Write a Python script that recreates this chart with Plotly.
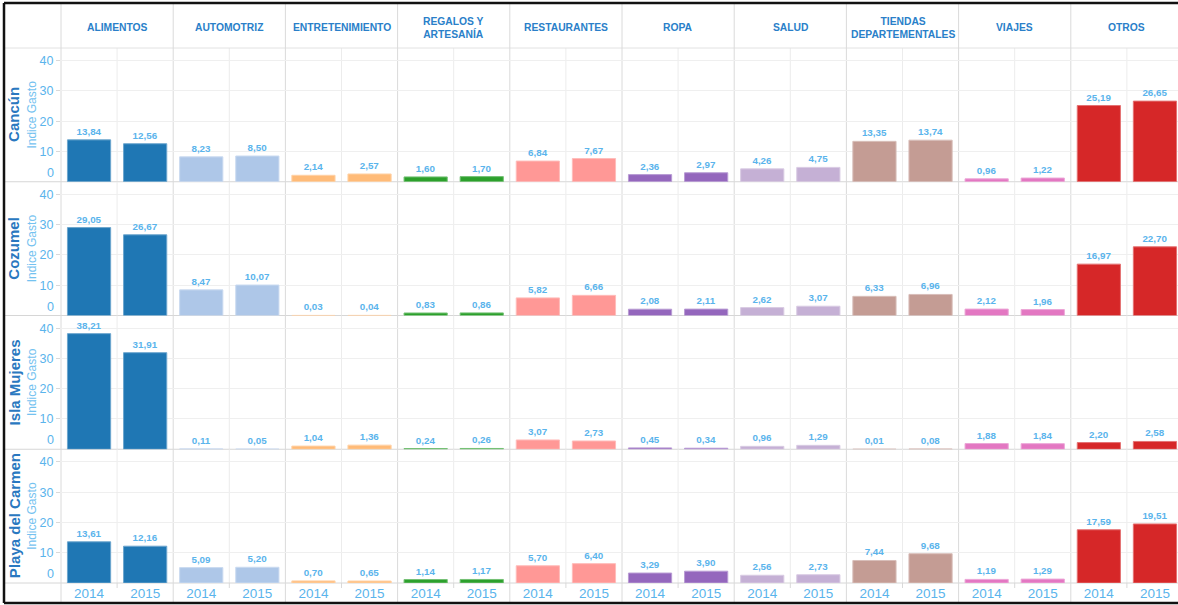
import plotly.graph_objects as go

# ---------------- data ----------------
years = ["2014", "2015"]
categories = ["ALIMENTOS", "AUTOMOTRIZ", "ENTRETENIMIENTO", "REGALOS Y<br>ARTESANÍA",
              "RESTAURANTES", "ROPA", "SALUD", "TIENDAS<br>DEPARTEMENTALES", "VIAJES", "OTROS"]
cities = ["Cancún", "Cozumel", "Isla Mujeres", "Playa del Carmen"]

cancun_2014 = [13.84, 8.23, 2.14, 1.60, 6.84, 2.36, 4.26, 13.35, 0.96, 25.19]
cancun_2015 = [12.56, 8.50, 2.57, 1.70, 7.67, 2.97, 4.75, 13.74, 1.22, 26.65]
cozumel_2014 = [29.05, 8.47, 0.03, 0.83, 5.82, 2.08, 2.62, 6.33, 2.12, 16.97]
cozumel_2015 = [26.67, 10.07, 0.04, 0.86, 6.66, 2.11, 3.07, 6.96, 1.96, 22.70]
isla_2014 = [38.21, 0.11, 1.04, 0.24, 3.07, 0.45, 0.96, 0.01, 1.88, 2.20]
isla_2015 = [31.91, 0.05, 1.36, 0.26, 2.73, 0.34, 1.29, 0.08, 1.84, 2.58]
playa_2014 = [13.61, 5.09, 0.70, 1.14, 5.70, 3.29, 2.56, 7.44, 1.19, 17.59]
playa_2015 = [12.16, 5.20, 0.65, 1.17, 6.40, 3.90, 2.73, 9.68, 1.29, 19.51]

y_ticks = [10, 20, 30, 40]
y_max = 44.2

# ---------------- style ----------------
colors = ["#1f77b4", "#aec7e8", "#ffbb78", "#2ca02c", "#ff9896",
          "#9467bd", "#c5b0d5", "#c49c94", "#e377c2", "#d62728"]
FONT = "Liberation Sans, Arial, sans-serif"
LIGHT_BLUE = "#5ab4ec"
HEAD_BLUE = "#2a7fc9"
ROW_BLUE = "#2a78c0"


def lighten(hexc, f=0.35):
    h = hexc.lstrip("#")
    r, g, b = int(h[0:2], 16), int(h[2:4], 16), int(h[4:6], 16)
    r = int(r + (255 - r) * f); g = int(g + (255 - g) * f); b = int(b + (255 - b) * f)
    return f"#{r:02x}{g:02x}{b:02x}"


W, H = 1178, 605
L, T, B, R = 61, 48, 22, 0
PW = W - L - R
PH = H - T - B
COLW = 112.2
ROWH = PH / 4


def fx(px):
    return (px - L) / PW


def fy(py):
    return 1 - (py - T) / PH


rows_data = [(cancun_2014, cancun_2015), (cozumel_2014, cozumel_2015),
             (isla_2014, isla_2015), (playa_2014, playa_2015)]

fig = go.Figure()
layout = {}
annotations = []
shapes = []

for r, (v14, v15) in enumerate(rows_data):
    ytop = T + r * ROWH
    ybot = T + (r + 1) * ROWH
    for c in range(len(categories)):
        n = r * 10 + c + 1
        sx = "" if n == 1 else str(n)
        left_px = L + c * COLW
        right_px = min(L + (c + 1) * COLW, W)
        xr = [-0.5, -0.5 + (right_px - left_px) / (COLW / 2)]
        fig.add_trace(go.Bar(
            x=years, y=[v14[c], v15[c]],
            xaxis="x" + sx, yaxis="y" + sx,
            marker=dict(color=colors[c], line=dict(color=lighten(colors[c]), width=1)),
            texttemplate="%{y:.2f}", textposition="outside", cliponaxis=False,
            constraintext="none",
            textfont=dict(size=9.8, color=LIGHT_BLUE, family=FONT, weight="bold"),
            showlegend=False, hoverinfo="x+y",
        ))
        layout["xaxis" + sx] = dict(
            domain=[fx(left_px), fx(right_px)], anchor="y" + sx, type="category",
            range=xr, showgrid=False, zeroline=False, showline=False,
            showticklabels=(r == 3), ticks="",
            tickfont=dict(size=13.5, color=LIGHT_BLUE, family=FONT), fixedrange=True,
        )
        ydict = dict(
            domain=[fy(ybot), fy(ytop)], anchor="x" + sx, range=[0, y_max],
            tickvals=y_ticks, showgrid=True, gridcolor="#efefef", gridwidth=1,
            zeroline=False, showline=False, showticklabels=(c == 0),
            ticks="outside" if c == 0 else "", ticklen=4, tickcolor="#d9d9d9",
            tickfont=dict(size=12.5, color=LIGHT_BLUE, family=FONT), fixedrange=True,
        )
        if c == 0:
            ydict["title"] = dict(text="Indice Gasto", standoff=0,
                                  font=dict(size=12, color="#74c2f0", family=FONT))
            annotations.append(dict(
                text="0", xref="paper", x=fx(56), xanchor="right",
                yref="y" + sx, y=0, yanchor="bottom", showarrow=False,
                font=dict(size=12.5, color=LIGHT_BLUE, family=FONT)))
        layout["yaxis" + sx] = ydict
        # mid line between 2014 and 2015
        midpx = left_px + COLW / 2
        if midpx < W:
            shapes.append(dict(type="line", xref="paper", yref="paper",
                               x0=fx(midpx), x1=fx(midpx), y0=fy(ybot), y1=fy(ytop),
                               line=dict(color="#ececec", width=1), layer="below"))
            if r == 3:
                shapes.append(dict(type="line", xref="paper", yref="paper",
                                   x0=fx(midpx), x1=fx(midpx), y0=fy(583), y1=fy(588),
                                   line=dict(color="#d9d9d9", width=1), layer="below"))
    # row label
    annotations.append(dict(
        text="<b>" + cities[r] + "</b>", xref="paper", yref="paper",
        x=fx(14), y=fy((ytop + ybot) / 2), xanchor="center", yanchor="middle",
        textangle=-90, showarrow=False,
        font=dict(size=15, color=ROW_BLUE, family=FONT)))
    # row separator
    shapes.append(dict(type="line", xref="paper", yref="paper",
                       x0=fx(4), x1=fx(W), y0=fy(ybot), y1=fy(ybot),
                       line=dict(color="#d6d6d6", width=1), layer="below"))

# header bottom line
shapes.append(dict(type="line", xref="paper", yref="paper",
                   x0=fx(4), x1=fx(W), y0=fy(T), y1=fy(T),
                   line=dict(color="#e2e2e2", width=1), layer="below"))
# column separators (including left label column edge)
for c in range(len(categories)):
    xp = L + c * COLW
    shapes.append(dict(type="line", xref="paper", yref="paper",
                       x0=fx(xp), x1=fx(xp), y0=fy(603), y1=fy(3),
                       line=dict(color="#dadada", width=1), layer="below"))
    cx = L + (c + 0.5) * COLW
    annotations.append(dict(
        text="<b>" + categories[c] + "</b>", xref="paper", yref="paper",
        x=fx(cx), y=fy(28), xanchor="center", yanchor="middle", showarrow=False,
        font=dict(size=10.3, color=HEAD_BLUE, family=FONT)))

# outer black frame
for (x0, y0, x1, y1) in [(4, 3, 4, 603), (4, 3, W, 3), (4, 603, W, 603)]:
    shapes.append(dict(type="line", xref="paper", yref="paper",
                       x0=fx(x0), x1=fx(x1), y0=fy(y0), y1=fy(y1),
                       line=dict(color="#111111", width=2.5), layer="above"))

fig.update_layout(
    **layout,
    width=W, height=H,
    margin=dict(l=L, r=R, t=T, b=B, autoexpand=False),
    paper_bgcolor="white", plot_bgcolor="rgba(0,0,0,0)",
    bargap=0.23, separators=",.",
    annotations=annotations, shapes=shapes,
    font=dict(family=FONT),
)

fig.write_html(
    "out.html",
    config={"displayModeBar": False},
    post_script="document.body.style.margin='0';document.body.style.overflow='hidden';",
)
